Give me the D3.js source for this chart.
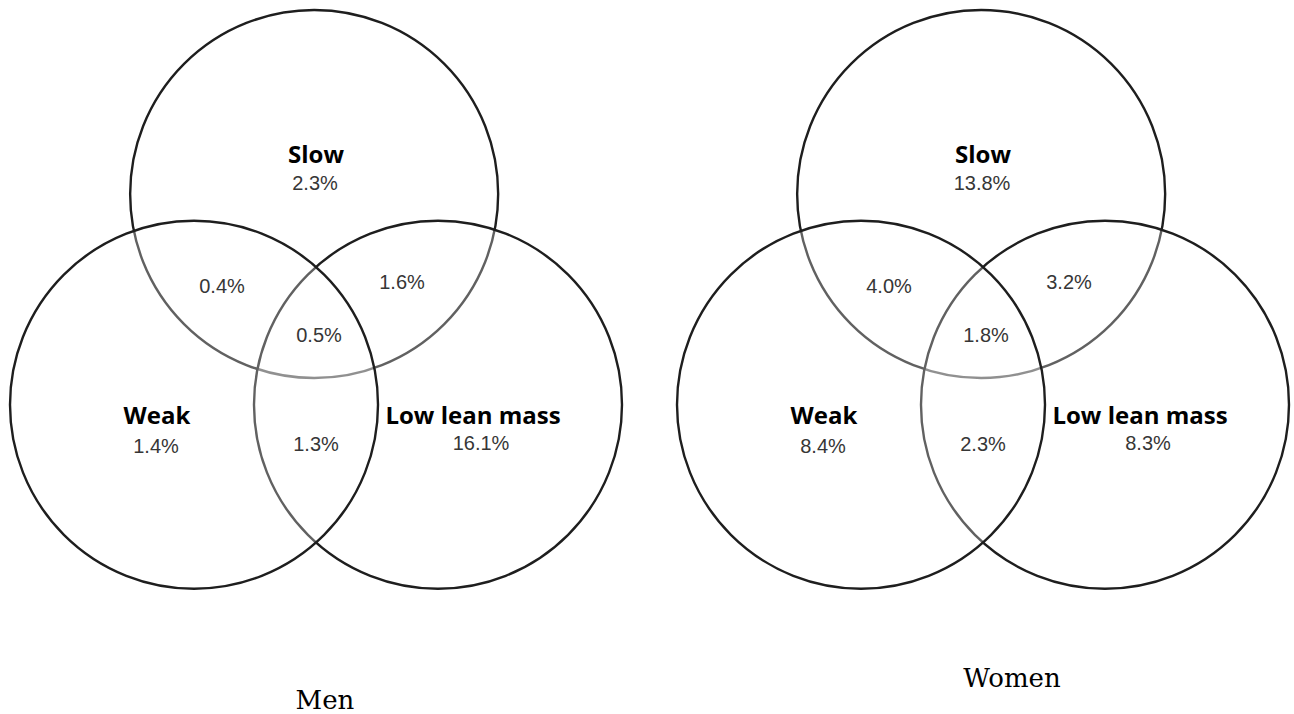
<!DOCTYPE html>
<html>
<head>
<meta charset="utf-8">
<script src="https://cdn.jsdelivr.net/npm/d3@7"></script>
<style>
  body { margin: 0; background: #fff; }
  svg { display: block; }
</style>
</head>
<body>
<svg width="1294" height="714"></svg>
<script>
// sets, drawn in this order (Slow under, Weak on top)
const sets = ['Slow', 'Low lean mass', 'Weak'];
// region keys for the percentages
const regions = ['Slow', 'Weak', 'Low lean mass', 'Slow+Weak', 'Slow+Low', 'Weak+Low', 'All'];
const menPct = [2.3, 1.4, 16.1, 0.4, 1.6, 1.3, 0.5];
const womenPct = [13.8, 8.4, 8.3, 4.0, 3.2, 2.3, 1.8];
const panelTitles = ['Men', 'Women'];

const svg = d3.select('svg');

// circle centres in radius units
const centres = {
    'Slow': [-0.01, 0],
    'Weak': [-0.663, 1.145],
    'Low lean mass': [0.663, 1.145]
};

// label offsets (px from panel centre x, absolute baseline y)
const nameSpot = {
    'Slow': [0, 163],
    'Weak': [-159, 424],
    'Low lean mass': [157, 424]
};
const pctSpot = {
    'Slow': [-1, 190],
    'Weak': [-160, 453],
    'Low lean mass': [165, 450],
    'Slow+Weak': [-94, 293],
    'Slow+Low': [86, 289],
    'Weak+Low': [0, 451],
    'All': [3, 342]
};

const panels = [
    {title: panelTitles[0], values: menPct, cx: 316, cy: 194, r: 184, tx: 325, ty: 709},
    {title: panelTitles[1], values: womenPct, cx: 983, cy: 194, r: 184, tx: 1012, ty: 687}
];

panels.forEach(p => {
    const x = d3.scaleLinear().domain([-1, 1]).range([p.cx - p.r, p.cx + p.r]);
    const y = d3.scaleLinear().domain([-1, 1]).range([p.cy - p.r, p.cy + p.r]);

    const g = svg.append('g');

    // white see-through fill greys out the arcs underneath
    g.selectAll('circle').data(sets)
        .enter().append('circle')
        .attr('cx', d => x(centres[d][0]))
        .attr('cy', d => y(centres[d][1]))
        .attr('r', x(1) - x(0))
        .attr('fill', '#fff')
        .attr('fill-opacity', 0.3)
        .attr('stroke', '#1e1e1e')
        .attr('stroke-width', 2.4)

    g.selectAll('text.name').data(Object.keys(nameSpot))
        .enter().append('text')
        .attr('class', 'name')
        .attr('x', d => p.cx + nameSpot[d][0])
        .attr('y', d => nameSpot[d][1])
        .attr('text-anchor', 'middle')
        .attr('font-family', '"Open Sans", sans-serif')
        .attr('font-weight', 700)
        .attr('font-size', 24)
        .attr('fill', '#000')
        .text(d => d)

    g.selectAll('text.pct').data(regions)
        .enter().append('text')
        .attr('class', 'pct')
        .attr('x', d => p.cx + pctSpot[d][0])
        .attr('y', d => pctSpot[d][1])
        .attr('text-anchor', 'middle')
        .attr('font-family', '"Liberation Sans", Arial, sans-serif')
        .attr('font-size', 20)
        .attr('fill', '#363636')
        .text((d, i) => p.values[i].toFixed(1) + '%')

    g.append('text')
        .attr('x', p.tx)
        .attr('y', p.ty)
        .attr('text-anchor', 'middle')
        .attr('font-family', '"DejaVu Serif", serif')
        .attr('font-size', 26)
        .attr('fill', '#000')
        .text(p.title)
});
</script>
</body>
</html>
